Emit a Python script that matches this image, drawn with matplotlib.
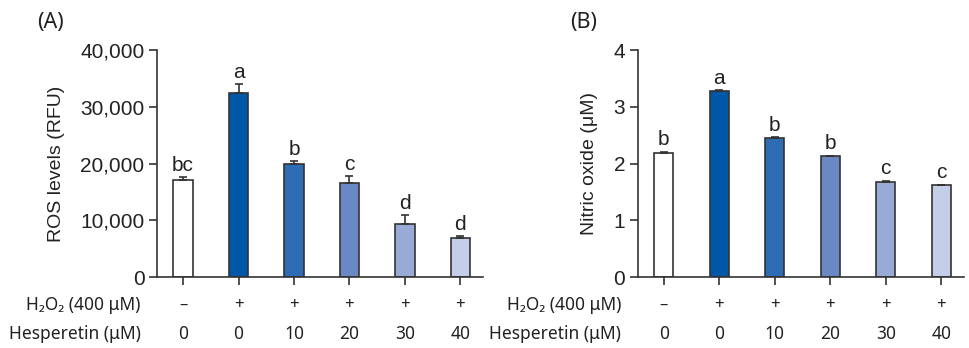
import matplotlib
matplotlib.use('Agg')
from matplotlib import pyplot as plt
from matplotlib import transforms
import numpy as np

# data
h2o2 = ['\u2013', '+', '+', '+', '+', '+']
hesperetin = ['0', '0', '10', '20', '30', '40']
bar_colors = ['#ffffff', '#0057a8', '#2e6db4', '#6a88c3', '#98abd6', '#c5cee8']

ros = [17100, 32400, 20000, 16600, 9300, 6900]
ros_err = [600, 1700, 500, 1200, 1700, 400]
ros_letters = ['bc', 'a', 'b', 'c', 'd', 'd']

no = [2.19, 3.28, 2.45, 2.13, 1.68, 1.62]
no_err = [0.01, 0.01, 0.01, 0.01, 0.01, 0.01]
no_letters = ['b', 'a', 'b', 'b', 'c', 'c']

plt.rcParams['font.family'] = ['Liberation Sans', 'DejaVu Sans']
row_font = ['Noto Sans', 'DejaVu Sans']
dark = '#333333'


def bar_panel(ax, vals, errs, letters, ylim, yticks, yticklabels, ylabel, pad):
    x = np.arange(len(vals))
    ax.bar(x, vals, width=0.35, color=bar_colors, edgecolor=dark, linewidth=1.2, zorder=2)
    ax.errorbar(x, vals, yerr=[np.zeros(len(errs)), errs], fmt='none',
                ecolor=dark, elinewidth=1.2, capsize=3, capthick=1.2, zorder=3)
    for xi, v, e, lab in zip(x, vals, errs, letters):
        ax.text(xi, v + e + pad, lab, ha='center', va='bottom', fontsize=15, color='#222222')

    ax.set_xlim(-0.47, 5.41)
    ax.set_ylim(*ylim)
    ax.set_yticks(yticks)
    ax.set_yticklabels(yticklabels, fontsize=15, color='#222222')
    ax.set_xticks(x)
    ax.set_xticklabels([])
    ax.set_ylabel(ylabel, fontsize=14, color='#222222', labelpad=11)
    for s in ['top', 'right']:
        ax.spines[s].set_visible(False)
    for s in ['left', 'bottom']:
        ax.spines[s].set_color(dark)
        ax.spines[s].set_linewidth(1.2)
    ax.tick_params(axis='both', direction='out', length=6, width=1.2, color=dark, pad=3)

    # treatment rows under the axis
    trans = transforms.blended_transform_factory(ax.transData, ax.transAxes)
    for xi, a, b in zip(x, h2o2, hesperetin):
        ax.text(xi, -0.123, a, transform=trans, ha='center', va='center',
                fontsize=12, family=row_font, color='#222222')
        ax.text(xi, -0.251, b, transform=trans, ha='center', va='center',
                fontsize=12.5, family=row_font, color='#222222')
    ax.text(-0.05, -0.123, 'H\u2082O\u2082 (400 \u03bcM)', transform=ax.transAxes,
            ha='right', va='center', fontsize=12.5, family=row_font, color='#222222')
    ax.text(-0.05, -0.251, 'Hesperetin (\u03bcM)', transform=ax.transAxes,
            ha='right', va='center', fontsize=12.5, family=row_font, color='#222222')


fig = plt.figure(figsize=(9.7, 3.48), dpi=100)
ax1 = fig.add_axes([0.1619, 0.204, 0.336, 0.652])
ax2 = fig.add_axes([0.6574, 0.204, 0.3364, 0.652])

bar_panel(ax1, ros, ros_err, ros_letters, (0, 40000),
          [0, 10000, 20000, 30000, 40000],
          ['0', '10,000', '20,000', '30,000', '40,000'],
          'ROS levels (RFU)', 300)
bar_panel(ax2, no, no_err, no_letters, (0, 4),
          [0, 1, 2, 3, 4], ['0', '1', '2', '3', '4'],
          'Nitric oxide (\u03bcM)', 0.05)

fig.text(0.052, 0.935, '(A)', fontsize=15.5, family=row_font, ha='center', va='center', color='#222222')
fig.text(0.602, 0.935, '(B)', fontsize=15.5, family=row_font, ha='center', va='center', color='#222222')

fig.savefig('out.png', dpi=100)
